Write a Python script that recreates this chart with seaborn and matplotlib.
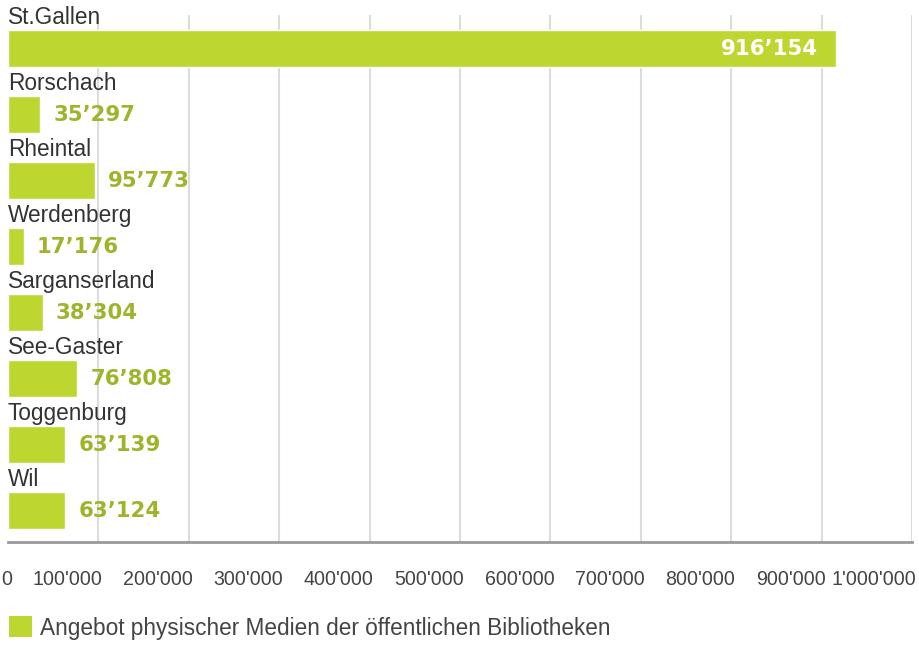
import matplotlib
matplotlib.use("Agg")
import matplotlib.pyplot as plt
import matplotlib.transforms as mtransforms
from matplotlib.patches import Patch
import seaborn as sns
import pandas as pd

regions = ["St.Gallen", "Rorschach", "Rheintal", "Werdenberg", "Sarganserland",
           "See-Gaster", "Toggenburg", "Wil"]
media = [916154, 35297, 95773, 17176, 38304, 76808, 63139, 63124]
tick_values = [0, 100000, 200000, 300000, 400000, 500000, 600000, 700000,
               800000, 900000, 1000000]
series_label = "Angebot physischer Medien der öffentlichen Bibliotheken"

BAR = "#bed630"
VALUE = "#9db52a"
TEXT = "#333333"
TICK = "#444444"

sns.set_theme(style="white")
plt.rcParams["font.family"] = ["Liberation Sans", "DejaVu Sans"]


def swiss(v):
    return f"{v:,}".replace(",", "\u2019")


def swiss_tick(v):
    return f"{v:,}".replace(",", "'")


df = pd.DataFrame({"region": regions, "media": media})

W, H = 920, 646
fig = plt.figure(figsize=(W / 100, H / 100), dpi=100)
ax = fig.add_axes([8 / W, 1 - 542 / H, 904 / W, 527 / H])

sns.barplot(data=df, x="media", y="region", orient="h", color=BAR,
            saturation=1, width=0.56, ax=ax, zorder=2)

ax.set_xlim(0, 1000000)
ax.set_ylim(7.477, -0.508)

# vertical grid
for v in tick_values[1:]:
    ax.axvline(v, color="#dcdcdc", lw=1.5, zorder=0)

for s in ["top", "right", "left"]:
    ax.spines[s].set_visible(False)
ax.spines["bottom"].set_color("#999999")
ax.spines["bottom"].set_linewidth(2)
ax.set_xlabel("")
ax.set_ylabel("")
ax.set_yticks([])
ax.set_xticks(tick_values)
ax.set_xticklabels([swiss_tick(v) for v in tick_values])
ax.tick_params(axis="x", length=0, pad=20.5, labelsize=14.1, labelcolor=TICK)
shift = mtransforms.ScaledTranslation(4 / 100, 0, fig.dpi_scale_trans)
for lab in ax.get_xticklabels():
    lab.set_horizontalalignment("right")
    lab.set_transform(lab.get_transform() + shift)

# category names above bars, values beside bars
for i, (name, val) in enumerate(zip(regions, media)):
    ax.annotate(name, xy=(0, i - 0.28), xytext=(0, 4.3), textcoords="offset points",
                ha="left", va="baseline", fontsize=16.3, color=TEXT, zorder=3)
    if val > 500000:
        ax.annotate(swiss(val), xy=(val, i), xytext=(-13, 0), textcoords="offset points",
                    ha="right", va="center", fontsize=15.3, color="white",
                    fontweight="bold", family="DejaVu Sans", zorder=3)
    else:
        ax.annotate(swiss(val), xy=(val, i), xytext=(9.5, 0), textcoords="offset points",
                    ha="left", va="center", fontsize=15.3, color=VALUE,
                    fontweight="bold", family="DejaVu Sans", zorder=3)

handle = Patch(facecolor=BAR, edgecolor="none")
fig.legend([handle], [series_label], loc="center left",
           bbox_to_anchor=(9 / W, 1 - 628 / H), frameon=False,
           fontsize=16.3, labelcolor=TICK, handlelength=1.02, handleheight=1.02,
           handletextpad=0.36, borderaxespad=0, borderpad=0)

fig.savefig("out.png", dpi=100, facecolor="white")
